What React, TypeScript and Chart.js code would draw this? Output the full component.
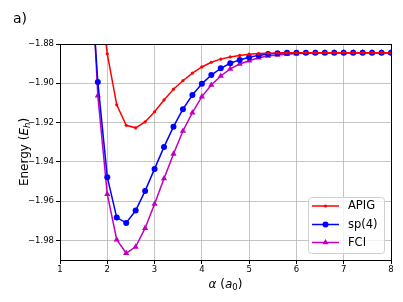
import React, { useEffect, useRef } from 'react';
import { Chart, registerables } from 'chart.js';

Chart.register(...registerables);

// ---- data ----
const alphaValues = [
  1.6, 1.8, 2.0, 2.2, 2.4, 2.6, 2.8, 3.0, 3.2, 3.4, 3.6, 3.8, 4.0, 4.2, 4.4, 4.6, 4.8,
  5.0, 5.2, 5.4, 5.6, 5.8, 6.0, 6.2, 6.4, 6.6, 6.8, 7.0, 7.2, 7.4, 7.6, 7.8, 8.0,
];
const apigEnergy = [
  null, -1.848, -1.885, -1.911, -1.9214, -1.9227, -1.9197, -1.9145, -1.9085, -1.903, -1.8987,
  -1.8948, -1.8917, -1.8893, -1.8877, -1.8866, -1.8858, -1.8852, -1.8849, -1.8847, -1.8846,
  -1.8845, -1.8845, -1.8844, -1.8844, -1.8844, -1.8844, -1.8844, -1.8844, -1.8844, -1.8844,
  -1.8844, -1.8844,
];
const sp4Energy = [
  -1.828, -1.8993, -1.9478, -1.9684, -1.9711, -1.9648, -1.9548, -1.9436, -1.9324, -1.9221,
  -1.9132, -1.906, -1.9003, -1.8958, -1.8924, -1.8898, -1.8881, -1.8868, -1.8858, -1.8851,
  -1.8847, -1.8845, -1.8844, -1.8844, -1.8844, -1.8844, -1.8844, -1.8844, -1.8844, -1.8844,
  -1.8844, -1.8844, -1.8844,
];
const fciEnergy = [
  -1.811, -1.9063, -1.9565, -1.9797, -1.9865, -1.9833, -1.9738, -1.9615, -1.9485, -1.936,
  -1.9243, -1.915, -1.9068, -1.9009, -1.8963, -1.8927, -1.8902, -1.8885, -1.887, -1.8861,
  -1.8856, -1.8852, -1.8849, -1.8847, -1.8846, -1.8845, -1.8844, -1.8844, -1.8844, -1.8844,
  -1.8844, -1.8844, -1.8844,
];
const seriesNames = ['APIG', 'sp(4)', 'FCI'];
const xTickValues = [1, 2, 3, 4, 5, 6, 7, 8];
const yTickValues = [-1.98, -1.96, -1.94, -1.92, -1.9, -1.88];
const panelLabel = 'a)';

const FONT = "'DejaVu Sans', sans-serif";
const RED = '#ff0000';
const BLUE = '#0000ff';
const MAG = '#bf00bf';

function toPoints(ys: (number | null)[]) {
  return alphaValues.map((x, i) => ({ x, y: ys[i] }));
}

function fmtTick(v: number, digits: number) {
  const s = v.toFixed(digits);
  return s.replace('-', '\u2212');
}

function drawMarker(ctx: CanvasRenderingContext2D, style: string, x: number, y: number, r: number, color: string) {
  ctx.fillStyle = color;
  ctx.beginPath();
  if (style === 'triangle') {
    let rad = 0;
    ctx.moveTo(x + Math.sin(rad) * r, y - Math.cos(rad) * r);
    rad += (2 * Math.PI) / 3;
    ctx.lineTo(x + Math.sin(rad) * r, y - Math.cos(rad) * r);
    rad += (2 * Math.PI) / 3;
    ctx.lineTo(x + Math.sin(rad) * r, y - Math.cos(rad) * r);
    ctx.closePath();
  } else {
    ctx.arc(x, y, r, 0, Math.PI * 2);
  }
  ctx.fill();
}

type Piece = { t: string; font: string; dy?: number };

function drawPieces(ctx: CanvasRenderingContext2D, pieces: Piece[], cx: number, baseline: number) {
  let total = 0;
  for (const p of pieces) {
    ctx.font = p.font;
    total += ctx.measureText(p.t).width;
  }
  let x = cx - total / 2;
  ctx.textAlign = 'left';
  ctx.textBaseline = 'alphabetic';
  for (const p of pieces) {
    ctx.font = p.font;
    ctx.fillText(p.t, x, baseline + (p.dy || 0));
    x += ctx.measureText(p.t).width;
  }
}

const decorations = {
  id: 'decorations',
  afterDraw(chart: any) {
    const ctx: CanvasRenderingContext2D = chart.ctx;
    const a = chart.chartArea;
    const al = (p: number) => Math.round(p - 0.5) + 0.5;
    ctx.save();
    // frame (spines)
    ctx.strokeStyle = '#000';
    ctx.lineWidth = 1;
    ctx.strokeRect(al(a.left), al(a.top), al(a.right) - al(a.left), al(a.bottom) - al(a.top));

    // legend
    const bx = 308.5, by = 197.5, bw = 76, bh = 56, br = 3;
    ctx.beginPath();
    ctx.moveTo(bx + br, by);
    ctx.lineTo(bx + bw - br, by);
    ctx.arcTo(bx + bw, by, bx + bw, by + br, br);
    ctx.lineTo(bx + bw, by + bh - br);
    ctx.arcTo(bx + bw, by + bh, bx + bw - br, by + bh, br);
    ctx.lineTo(bx + br, by + bh);
    ctx.arcTo(bx, by + bh, bx, by + bh - br, br);
    ctx.lineTo(bx, by + br);
    ctx.arcTo(bx, by, bx + br, by, br);
    ctx.closePath();
    ctx.fillStyle = 'rgba(255,255,255,0.8)';
    ctx.fill();
    ctx.strokeStyle = '#d0d0d0';
    ctx.lineWidth = 1;
    ctx.stroke();

    const rows = [206, 224.5, 242.5];
    chart.data.datasets.forEach((ds: any, i: number) => {
      const y = rows[i];
      ctx.strokeStyle = ds.borderColor;
      ctx.lineWidth = ds.borderWidth;
      ctx.beginPath();
      ctx.moveTo(312, y);
      ctx.lineTo(339, y);
      ctx.stroke();
      drawMarker(ctx, ds.pointStyle, 325.5, y, ds.pointRadius, ds.borderColor);
      ctx.fillStyle = '#000';
      ctx.font = `11.5px ${FONT}`;
      ctx.textAlign = 'left';
      ctx.textBaseline = 'middle';
      ctx.fillText(seriesNames[i], 348, y + 0.5);
    });

    // panel label
    ctx.fillStyle = '#000';
    ctx.font = `14px ${FONT}`;
    ctx.textAlign = 'left';
    ctx.textBaseline = 'alphabetic';
    ctx.fillText(panelLabel, 13, 22.5);

    // x axis label: α (a₀)
    drawPieces(
      ctx,
      [
        { t: '\u03b1', font: `italic 12px ${FONT}` },
        { t: ' (', font: `12px ${FONT}` },
        { t: 'a', font: `italic 12px ${FONT}` },
        { t: '0', font: `8.5px ${FONT}`, dy: 2 },
        { t: ')', font: `12px ${FONT}` },
      ],
      (a.left + a.right) / 2,
      288
    );

    // y axis label: Energy (E_h)
    ctx.save();
    ctx.translate(28, (a.top + a.bottom) / 2);
    ctx.rotate(-Math.PI / 2);
    drawPieces(
      ctx,
      [
        { t: 'Energy (', font: `12px ${FONT}` },
        { t: 'E', font: `italic 12px ${FONT}` },
        { t: 'h', font: `italic 8.5px ${FONT}`, dy: 2 },
        { t: ')', font: `12px ${FONT}` },
      ],
      0,
      0
    );
    ctx.restore();
    ctx.restore();
  },
};

export default function App() {
  const ref = useRef<HTMLCanvasElement | null>(null);

  useEffect(() => {
    if (!ref.current) return;
    const gridColor = 'rgba(176,176,176,0.75)';
    const chart = new Chart(ref.current, {
      type: 'line',
      data: {
        datasets: [
          {
            label: seriesNames[0],
            data: toPoints(apigEnergy),
            borderColor: RED,
            backgroundColor: RED,
            borderWidth: 1.5,
            pointStyle: 'circle',
            pointRadius: 1.6,
            pointBorderWidth: 0,
            pointBackgroundColor: RED,
            spanGaps: false,
          },
          {
            label: seriesNames[1],
            data: toPoints(sp4Energy),
            borderColor: BLUE,
            backgroundColor: BLUE,
            borderWidth: 1.5,
            pointStyle: 'circle',
            pointRadius: 3,
            pointBorderWidth: 0,
            pointBackgroundColor: BLUE,
          },
          {
            label: seriesNames[2],
            data: toPoints(fciEnergy),
            borderColor: MAG,
            backgroundColor: MAG,
            borderWidth: 1.5,
            pointStyle: 'triangle',
            pointRadius: 3.6,
            pointBorderWidth: 0,
            pointBackgroundColor: MAG,
          },
        ] as any,
      },
      options: {
        responsive: false,
        animation: false,
        devicePixelRatio: 1,
        layout: { padding: { left: 0, right: 12, top: 44, bottom: 0 } },
        plugins: {
          legend: { display: false },
          tooltip: { enabled: false },
        },
        elements: { line: { tension: 0 } },
        scales: {
          x: {
            type: 'linear',
            min: 1,
            max: 8,
            afterBuildTicks: (scale: any) => {
              scale.ticks = xTickValues.map((v) => ({ value: v }));
            },
            afterFit: (scale: any) => {
              scale.height = 42;
            },
            ticks: {
              font: { family: FONT, size: 8.5 },
              color: '#000',
              padding: 1,
              maxRotation: 0,
              autoSkip: false,
              callback: (v: any) => fmtTick(Number(v), 0),
            },
            grid: { color: gridColor, lineWidth: 1, tickLength: 4, tickColor: '#000', drawTicks: true },
            border: { display: true, color: '#000', width: 1 },
          },
          y: {
            type: 'linear',
            min: -1.99,
            max: -1.88,
            afterBuildTicks: (scale: any) => {
              scale.ticks = yTickValues.map((v) => ({ value: v }));
            },
            afterFit: (scale: any) => {
              scale.width = 60;
            },
            ticks: {
              font: { family: FONT, size: 8.5 },
              color: '#000',
              padding: 2,
              autoSkip: false,
              callback: (v: any) => fmtTick(Number(v), 2),
            },
            grid: { color: gridColor, lineWidth: 1, tickLength: 4, tickColor: '#000', drawTicks: true },
            border: { display: true, color: '#000', width: 1 },
          },
        },
      },
      plugins: [decorations],
    } as any);
    return () => chart.destroy();
  }, []);

  return (
    <div style={{ position: 'absolute', left: 0, top: 0, width: 403, height: 302, background: '#fff' }}>
      <canvas ref={ref} width={403} height={302} style={{ display: 'block', width: 403, height: 302 }} />
    </div>
  );
}
